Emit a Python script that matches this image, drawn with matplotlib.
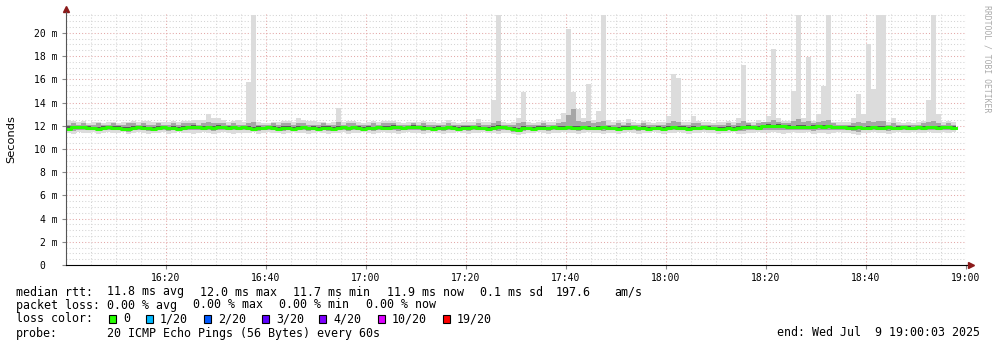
import numpy as np
import matplotlib
matplotlib.use("Agg")
import matplotlib.pyplot as plt
from matplotlib.patches import Rectangle

# one sample per minute, starting 16:00
median = [
    11.75, 11.85, 11.9, 11.9, 11.8, 11.8, 11.75, 11.8, 11.85, 11.8,
    11.8, 11.75, 11.7, 11.8, 11.85, 11.8, 11.8, 11.75, 11.8, 11.85,
    11.8, 11.8, 11.75, 11.8, 11.85, 11.9, 11.85, 11.8, 11.85, 11.8,
    11.9, 11.85, 11.8, 11.85, 11.8, 11.85, 11.8, 11.75, 11.8, 11.8,
    11.85, 11.8, 11.75, 11.8, 11.8, 11.75, 11.8, 11.85, 11.8, 11.8,
    11.75, 11.8, 11.8, 11.75, 11.8, 11.85, 11.8, 11.85, 11.8, 11.75,
    11.8, 11.8, 11.85, 11.8, 11.8, 11.9, 11.85, 11.8, 11.85, 11.9,
    11.85, 11.8, 11.8, 11.75, 11.8, 11.8, 11.85, 11.8, 11.75, 11.8,
    11.8, 11.85, 11.8, 11.8, 11.75, 11.8, 11.9, 11.85, 11.8, 11.7,
    11.65, 11.8, 11.8, 11.75, 11.8, 11.8, 11.8, 11.85, 11.8, 11.8,
    11.85, 11.8, 11.8, 11.85, 11.8, 11.8, 11.8, 11.85, 11.8, 11.8,
    11.75, 11.8, 11.8, 11.85, 11.8, 11.8, 11.75, 11.8, 11.8, 11.75,
    11.8, 11.85, 11.8, 11.8, 11.75, 11.8, 11.8, 11.85, 11.8, 11.8,
    11.75, 11.75, 11.8, 11.75, 11.8, 11.85, 11.9, 11.85, 11.8, 11.95,
    12.0, 11.95, 12.0, 11.95, 11.9, 11.85, 11.9, 11.9, 11.85, 11.9,
    11.95, 11.9, 11.95, 11.85, 11.9, 11.85, 11.8, 11.8, 11.85, 11.8,
    11.8, 11.85, 11.8, 11.8, 11.85, 11.8, 11.8, 11.85, 11.8, 11.8,
    11.85, 11.8, 11.85, 11.85, 11.8, 11.85, 11.85, 11.8,
]

ping_max = [
    12.5, 12.4, 12.3, 12.4, 12.2, 12.3, 12.3, 12.2, 12.3, 12.3,
    12.2, 12.3, 12.3, 12.4, 12.3, 12.4, 12.4, 12.3, 12.3, 12.3,
    12.3, 12.4, 12.3, 12.4, 12.4, 12.5, 12.5, 12.5, 13.0, 12.7,
    12.7, 12.5, 12.3, 12.4, 12.5, 12.3, 15.8, 21.55, 12.3, 12.2,
    12.2, 12.3, 12.3, 12.4, 12.4, 12.3, 12.7, 12.5, 12.4, 12.4,
    12.3, 12.3, 12.2, 12.3, 13.5, 12.3, 12.4, 12.4, 12.3, 12.2,
    12.3, 12.4, 12.3, 12.4, 12.4, 12.4, 12.3, 12.2, 12.3, 12.3,
    12.3, 12.4, 12.3, 12.3, 12.2, 12.3, 12.5, 12.3, 12.2, 12.3,
    12.3, 12.3, 12.6, 12.3, 12.3, 14.2, 21.55, 12.3, 12.2, 12.3,
    12.7, 14.9, 12.3, 12.2, 12.3, 12.4, 12.3, 12.3, 12.6, 13.1,
    20.3, 14.9, 13.4, 12.7, 15.6, 12.5, 13.3, 21.55, 12.5, 12.3,
    12.5, 12.3, 12.6, 12.3, 12.2, 12.4, 12.3, 12.2, 12.3, 12.3,
    12.8, 16.5, 16.1, 12.3, 12.3, 12.8, 12.4, 12.3, 12.3, 12.2,
    12.3, 12.3, 12.4, 12.3, 12.7, 17.2, 12.3, 12.3, 12.5, 12.3,
    12.8, 18.6, 12.7, 12.4, 12.4, 15.0, 21.55, 12.7, 17.9, 12.4,
    13.0, 15.4, 21.55, 12.3, 12.3, 12.3, 12.3, 12.7, 14.7, 13.0,
    19.0, 15.2, 21.55, 21.55, 12.3, 12.7, 12.3, 12.2, 12.3, 12.2,
    12.3, 12.4, 14.2, 21.55, 13.0, 12.3, 12.4, 12.3,
]

ping_min = [
    11.4, 11.3, 11.5, 11.4, 11.4, 11.5, 11.3, 11.4, 11.5, 11.4,
    11.4, 11.5, 11.3, 11.4, 11.5, 11.4, 11.3, 11.4, 11.4, 11.5,
    11.3, 11.4, 11.5, 11.4, 11.4, 11.3, 11.4, 11.5, 11.4, 11.3,
    11.4, 11.5, 11.4, 11.3, 11.4, 11.4, 11.4, 11.5, 11.3, 11.4,
    11.5, 11.4, 11.4, 11.3, 11.4, 11.5, 11.4, 11.4, 11.3, 11.4,
    11.5, 11.4, 11.3, 11.4, 11.4, 11.5, 11.3, 11.4, 11.4, 11.5,
    11.4, 11.3, 11.4, 11.5, 11.4, 11.4, 11.3, 11.4, 11.5, 11.4,
    11.4, 11.3, 11.4, 11.5, 11.4, 11.3, 11.4, 11.4, 11.5, 11.4,
    11.3, 11.4, 11.4, 11.5, 11.4, 11.4, 11.3, 11.4, 11.4, 11.3,
    11.2, 11.3, 11.4, 11.4, 11.5, 11.4, 11.3, 11.4, 11.4, 11.5,
    11.4, 11.4, 11.3, 11.4, 11.5, 11.4, 11.4, 11.3, 11.4, 11.4,
    11.3, 11.4, 11.5, 11.4, 11.3, 11.4, 11.4, 11.5, 11.4, 11.3,
    11.4, 11.4, 11.5, 11.4, 11.3, 11.4, 11.4, 11.5, 11.4, 11.4,
    11.3, 11.4, 11.4, 11.5, 11.3, 11.3, 11.4, 11.4, 11.5, 11.4,
    11.4, 11.5, 11.4, 11.3, 11.4, 11.5, 11.4, 11.4, 11.5, 11.3,
    11.4, 11.4, 11.3, 11.4, 11.5, 11.4, 11.4, 11.3, 11.2, 11.4,
    11.4, 11.5, 11.4, 11.4, 11.3, 11.4, 11.5, 11.4, 11.4, 11.5,
    11.4, 11.4, 11.5, 11.4, 11.4, 11.5, 11.4, 11.5,
]

# inner smoke (middle pings)
mid_hi = [
    12.1, 12.2, 12.1, 12.2, 12.1, 12.1, 12.2, 12.1, 12.1, 12.2,
    12.1, 12.1, 12.2, 12.2, 12.1, 12.2, 12.1, 12.1, 12.2, 12.1,
    12.1, 12.2, 12.1, 12.2, 12.2, 12.2, 12.1, 12.2, 12.3, 12.2,
    12.2, 12.2, 12.1, 12.2, 12.1, 12.1, 12.2, 12.3, 12.1, 12.1,
    12.1, 12.2, 12.1, 12.2, 12.2, 12.1, 12.2, 12.2, 12.1, 12.1,
    12.1, 12.2, 12.1, 12.1, 12.3, 12.1, 12.2, 12.2, 12.1, 12.1,
    12.1, 12.2, 12.1, 12.2, 12.2, 12.2, 12.1, 12.1, 12.1, 12.2,
    12.1, 12.2, 12.1, 12.1, 12.1, 12.1, 12.2, 12.1, 12.1, 12.1,
    12.1, 12.1, 12.2, 12.1, 12.1, 12.2, 12.4, 12.1, 12.1, 12.1,
    12.2, 12.3, 12.1, 12.1, 12.1, 12.2, 12.1, 12.1, 12.2, 12.3,
    12.9, 13.4, 12.4, 12.3, 12.4, 12.2, 12.3, 12.4, 12.1, 12.1,
    12.2, 12.1, 12.2, 12.1, 12.1, 12.2, 12.1, 12.1, 12.1, 12.1,
    12.2, 12.4, 12.3, 12.1, 12.1, 12.2, 12.2, 12.1, 12.1, 12.1,
    12.1, 12.1, 12.2, 12.1, 12.2, 12.4, 12.2, 12.1, 12.2, 12.3,
    12.3, 12.5, 12.3, 12.2, 12.2, 12.4, 12.6, 12.3, 12.4, 12.2,
    12.3, 12.4, 12.5, 12.2, 12.1, 12.1, 12.1, 12.2, 12.3, 12.2,
    12.4, 12.3, 12.4, 12.4, 12.1, 12.2, 12.1, 12.1, 12.1, 12.1,
    12.1, 12.2, 12.3, 12.4, 12.2, 12.1, 12.2, 12.1,
]

mid_lo = [
    11.6, 11.55, 11.65, 11.6, 11.6, 11.65, 11.55, 11.6, 11.65, 11.6,
    11.6, 11.6, 11.5, 11.6, 11.65, 11.6, 11.55, 11.6, 11.6, 11.65,
    11.55, 11.6, 11.6, 11.6, 11.65, 11.6, 11.6, 11.6, 11.6, 11.55,
    11.6, 11.65, 11.6, 11.6, 11.6, 11.6, 11.6, 11.6, 11.55, 11.6,
    11.65, 11.6, 11.6, 11.55, 11.6, 11.6, 11.6, 11.6, 11.55, 11.6,
    11.6, 11.6, 11.55, 11.6, 11.6, 11.65, 11.55, 11.6, 11.6, 11.6,
    11.6, 11.55, 11.6, 11.65, 11.6, 11.6, 11.55, 11.6, 11.65, 11.6,
    11.6, 11.55, 11.6, 11.6, 11.6, 11.55, 11.6, 11.6, 11.6, 11.6,
    11.55, 11.6, 11.6, 11.65, 11.6, 11.6, 11.55, 11.6, 11.6, 11.5,
    11.45, 11.55, 11.6, 11.6, 11.6, 11.6, 11.55, 11.6, 11.6, 11.6,
    11.6, 11.6, 11.55, 11.6, 11.6, 11.6, 11.6, 11.55, 11.6, 11.6,
    11.55, 11.6, 11.6, 11.6, 11.55, 11.6, 11.6, 11.6, 11.6, 11.55,
    11.6, 11.6, 11.6, 11.6, 11.55, 11.6, 11.6, 11.6, 11.6, 11.6,
    11.55, 11.6, 11.6, 11.6, 11.55, 11.55, 11.6, 11.6, 11.65, 11.6,
    11.65, 11.65, 11.65, 11.6, 11.6, 11.65, 11.6, 11.6, 11.6, 11.55,
    11.6, 11.6, 11.6, 11.6, 11.65, 11.6, 11.6, 11.55, 11.5, 11.6,
    11.6, 11.6, 11.6, 11.6, 11.55, 11.6, 11.6, 11.6, 11.6, 11.65,
    11.6, 11.6, 11.65, 11.6, 11.6, 11.65, 11.6, 11.65,
]

core_hi = [
    11.95, 12.0, 12.0, 12.0, 11.95, 11.9, 11.9, 11.95, 11.95, 11.95,
    11.95, 11.9, 11.85, 11.95, 12.0, 11.95, 11.9, 11.9, 11.95, 12.0,
    11.9, 11.95, 11.9, 11.95, 12.0, 12.05, 12.0, 11.95, 12.0, 11.95,
    12.05, 12.0, 11.95, 12.0, 11.9, 12.0, 11.95, 11.9, 11.95, 11.9,
    12.0, 11.95, 11.9, 11.95, 11.95, 11.85, 11.95, 12.0, 11.9, 11.95,
    11.9, 11.95, 11.95, 11.9, 11.95, 12.0, 11.9, 12.0, 11.95, 11.85,
    11.95, 11.9, 12.0, 11.95, 11.95, 12.05, 12.0, 11.9, 12.0, 12.05,
    12.0, 11.95, 11.9, 11.9, 11.95, 11.9, 12.0, 11.95, 11.85, 11.95,
    11.95, 12.0, 11.95, 11.9, 11.9, 11.95, 12.05, 12.0, 11.9, 11.85,
    11.8, 11.95, 11.9, 11.9, 11.95, 11.95, 11.9, 12.0, 11.95, 11.95,
    12.0, 11.95, 11.95, 12.0, 11.95, 11.9, 11.95, 12.0, 11.95, 11.9,
    11.9, 11.95, 11.95, 12.0, 11.9, 11.95, 11.9, 11.9, 11.95, 11.9,
    11.95, 12.0, 11.95, 11.95, 11.9, 11.95, 11.9, 12.0, 11.95, 11.9,
    11.9, 11.9, 11.95, 11.9, 11.95, 12.0, 12.05, 12.0, 11.95, 12.1,
    12.15, 12.1, 12.15, 12.1, 12.05, 12.0, 12.05, 12.05, 12.0, 12.05,
    12.1, 12.05, 12.1, 12.0, 12.0, 12.0, 11.95, 11.95, 12.0, 11.9,
    11.95, 12.0, 11.95, 11.95, 12.0, 11.9, 11.95, 12.0, 11.95, 11.9,
    12.0, 11.95, 12.0, 12.0, 11.95, 12.0, 12.0, 11.95,
]

core_lo = [
    11.6, 11.7, 11.75, 11.75, 11.65, 11.7, 11.6, 11.65, 11.7, 11.65,
    11.65, 11.6, 11.55, 11.65, 11.7, 11.65, 11.65, 11.6, 11.65, 11.7,
    11.65, 11.65, 11.6, 11.65, 11.7, 11.75, 11.7, 11.65, 11.7, 11.65,
    11.75, 11.7, 11.65, 11.7, 11.65, 11.7, 11.65, 11.6, 11.65, 11.65,
    11.7, 11.65, 11.6, 11.65, 11.65, 11.6, 11.65, 11.7, 11.65, 11.65,
    11.6, 11.65, 11.65, 11.6, 11.65, 11.7, 11.65, 11.7, 11.65, 11.6,
    11.65, 11.65, 11.7, 11.65, 11.65, 11.75, 11.7, 11.65, 11.7, 11.75,
    11.7, 11.65, 11.65, 11.6, 11.65, 11.65, 11.7, 11.65, 11.6, 11.65,
    11.65, 11.7, 11.65, 11.65, 11.6, 11.65, 11.75, 11.7, 11.65, 11.55,
    11.5, 11.65, 11.65, 11.6, 11.65, 11.65, 11.65, 11.7, 11.65, 11.65,
    11.7, 11.65, 11.65, 11.7, 11.65, 11.65, 11.65, 11.7, 11.65, 11.65,
    11.6, 11.65, 11.65, 11.7, 11.65, 11.65, 11.6, 11.65, 11.65, 11.6,
    11.65, 11.7, 11.65, 11.65, 11.6, 11.65, 11.65, 11.7, 11.65, 11.65,
    11.6, 11.6, 11.65, 11.6, 11.65, 11.7, 11.75, 11.7, 11.65, 11.8,
    11.85, 11.8, 11.85, 11.8, 11.75, 11.7, 11.75, 11.75, 11.7, 11.75,
    11.8, 11.75, 11.8, 11.7, 11.75, 11.7, 11.65, 11.65, 11.7, 11.65,
    11.65, 11.7, 11.65, 11.65, 11.7, 11.65, 11.65, 11.7, 11.65, 11.65,
    11.7, 11.65, 11.7, 11.7, 11.65, 11.7, 11.7, 11.65,
]

time_ticks = [20, 40, 60, 80, 100, 120, 140, 160, 180]
time_labels = ["16:20", "16:40", "17:00", "17:20", "17:40",
               "18:00", "18:20", "18:40", "19:00"]
y_ticks = [0, 2, 4, 6, 8, 10, 12, 14, 16, 18, 20]
y_labels = ["0  "] + [f"{v} m" for v in y_ticks[1:]]

loss_labels = ["0", "1/20", "2/20", "3/20", "4/20", "10/20", "19/20"]
loss_colors = ["#26ff00", "#00b8ff", "#0059ff", "#5e00ff",
               "#7e00ff", "#dd00ff", "#ff0000"]

W, H = 997, 347
MONO = "DejaVu Sans Mono"


def fx(x):
    return x / W


def fy(y):
    return 1 - y / H


fig = plt.figure(figsize=(W / 100, H / 100), dpi=100)
fig.patch.set_facecolor("white")
ax = fig.add_axes([fx(66), fy(265), 900 / W, 253 / H])

minutes = np.arange(len(median))
layers = [
    (ping_min, ping_max, "#dcdcdc"),
    (mid_lo, mid_hi, "#a6a6a6"),
    (core_lo, core_hi, "#5a5a5a"),
]
for lo, hi, col in layers:
    lo = np.array(lo)
    hi = np.array(hi)
    ax.bar(minutes, hi - lo, bottom=lo, width=1.0, align="edge",
           color=col, linewidth=0, zorder=2)

xs = np.append(minutes, len(median))
ys = np.append(median, median[-1])
ax.step(xs, ys, where="post", color=loss_colors[0], linewidth=2.2, zorder=3)

ax.set_xlim(0, 180)
ax.set_ylim(0, 21.8)

# grid: minor grey, major red, dotted
dots = (0, (1, 2))
for v in np.arange(0.5, 21.8, 0.5):
    major = abs(v % 2) < 1e-9
    ax.axhline(v, color="#e3a8a8" if major else "#d4d4d4",
               linewidth=0.75, linestyle=dots, zorder=1)
for m in range(5, 181, 5):
    major = m % 20 == 0
    ax.axvline(m, color="#e3a8a8" if major else "#d4d4d4",
               linewidth=0.75, linestyle=dots, zorder=1)

ax.set_xticks(time_ticks)
ax.set_xticklabels(time_labels, family=MONO, fontsize=7)
ax.set_yticks(y_ticks)
ax.set_yticklabels(y_labels, family=MONO, fontsize=7)
ax.tick_params(axis="both", length=3, width=0.8, color="#888888")
ax.tick_params(axis="x", pad=3)
ax.tick_params(axis="y", pad=3)

for s in ["top", "right"]:
    ax.spines[s].set_visible(False)
ax.spines["left"].set_color("#555555")
ax.spines["bottom"].set_color("black")
ax.spines["left"].set_zorder(4)
ax.spines["bottom"].set_zorder(4)

# axis extensions and arrows
ax.plot([0, 0], [1, 1.008], transform=ax.transAxes, color="#555555",
        linewidth=0.8, clip_on=False)
ax.plot([1, 1.005], [0, 0], transform=ax.transAxes, color="black",
        linewidth=0.8, clip_on=False)
ax.plot([0], [1.01], marker="^", markersize=4, color="#8b1a1a",
        transform=ax.transAxes, clip_on=False)
ax.plot([1.006], [0], marker=">", markersize=4, color="#8b1a1a",
        transform=ax.transAxes, clip_on=False)

fig.text(fx(11), fy(139), "Seconds", rotation=90, ha="center", va="center",
         family="DejaVu Sans", fontsize=8.2)
fig.text(fx(987), fy(5), "RRDTOOL / TOBI OETIKER", rotation=270,
         ha="center", va="top", family=MONO, fontsize=5.9, color="#aaaaaa")

FS = 8.4


def put(x, y, s, ha="left"):
    fig.text(fx(x), fy(y), s, ha=ha, va="center", family=MONO, fontsize=FS)


put(16, 292, "median rtt:")
for x, s in zip([107, 200, 293, 387, 480, 556, 614],
                ["11.8 ms avg", "12.0 ms max", "11.7 ms min", "11.9 ms now",
                 "0.1 ms sd", "197.6", "am/s"]):
    put(x, 292, s)

put(16, 305, "packet loss:")
for x, s in zip([107, 193, 279, 366],
                ["0.00 % avg", "0.00 % max", "0.00 % min", "0.00 % now"]):
    put(x, 305, s)

put(16, 319, "loss color:")
box_x = [109, 146, 204, 262, 319, 378, 443]
for bx, lab, col in zip(box_x, loss_labels, loss_colors):
    fig.patches.append(Rectangle((fx(bx), fy(323)), 7 / W, 8 / H,
                                 transform=fig.transFigure, facecolor=col,
                                 edgecolor="black", linewidth=0.8))
    put(bx + 14, 319, lab)

put(16, 333, "probe:")
put(107, 333, "20 ICMP Echo Pings (56 Bytes) every 60s")
put(980, 333, "end: Wed Jul  9 19:00:03 2025", ha="right")

fig.savefig("out.png", dpi=100, facecolor="white")
